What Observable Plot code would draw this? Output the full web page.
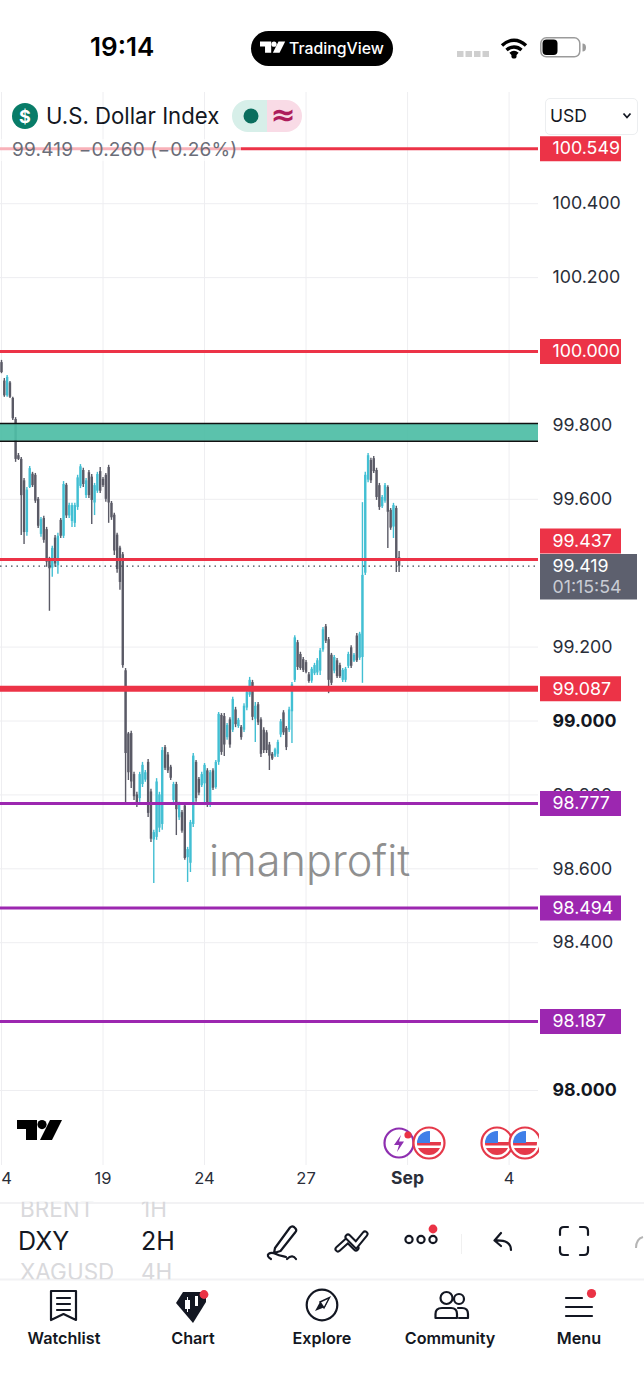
<!DOCTYPE html>
<html>
<head>
<meta charset="utf-8">
<script src="https://cdn.jsdelivr.net/npm/d3@7"></script>
<script src="https://cdn.jsdelivr.net/npm/@observablehq/plot@0.6"></script>
<style>
html,body{margin:0;padding:0;background:#fff;width:644px;height:1400px;overflow:hidden;font-family:Inter,"Noto Sans",sans-serif;color:#131722}
#page{position:relative;width:644px;height:1400px;overflow:hidden}
#chart{position:absolute;left:0;top:92px;width:644px}
.a{position:absolute;white-space:nowrap;line-height:1}
svg.i{position:absolute;overflow:visible}
</style>
</head>
<body>
<div id="page"><div id="chart"></div></div>
<script>
const high=[99.976,99.927,99.935,99.919,99.876,99.821,99.724,99.713,99.656,99.632,99.689,99.673,99.670,99.605,99.551,99.554,99.524,99.443,99.473,99.502,99.508,99.548,99.648,99.643,99.589,99.589,99.589,99.665,99.694,99.684,99.656,99.678,99.667,99.643,99.673,99.686,99.659,99.670,99.692,99.594,99.562,99.508,99.473,99.456,
99.142,98.969,98.972,98.861,98.807,98.861,98.888,98.866,98.896,98.815,98.704,98.844,98.807,98.928,98.934,98.915,98.880,98.834,98.834,98.780,98.758,98.777,98.658,98.731,98.912,98.893,98.847,98.861,98.885,98.871,98.866,98.871,98.893,99.023,99.020,99.020,98.993,99.009,99.064,99.037,99.007,98.988,99.047,99.083,99.118,99.110,99.050,99.050,99.009,98.982,98.974,98.942,98.915,98.926,98.948,99.004,99.028,98.985,99.037,99.104,99.231,
99.218,99.186,99.172,99.164,99.131,99.145,99.156,99.169,99.196,99.253,99.261,99.226,99.183,99.177,99.169,99.156,99.142,99.145,99.186,99.204,99.183,99.237,99.240,99.591,99.673,99.724,99.711,99.716,99.684,99.643,99.610,99.643,99.637,99.575,99.589,99.581,99.459];
const low=[99.940,99.876,99.876,99.873,99.813,99.700,99.705,99.502,99.478,99.500,99.629,99.632,99.589,99.521,99.497,99.481,99.416,99.297,99.389,99.416,99.397,99.494,99.494,99.548,99.548,99.524,99.524,99.570,99.629,99.632,99.602,99.602,99.532,99.556,99.616,99.616,99.632,99.592,99.535,99.543,99.448,99.400,99.354,99.143,
98.777,98.839,98.817,98.785,98.766,98.780,98.820,98.834,98.739,98.671,98.560,98.677,98.698,98.704,98.866,98.858,98.839,98.777,98.690,98.731,98.696,98.623,98.563,98.590,98.712,98.780,98.798,98.820,98.777,98.766,98.766,98.812,98.815,98.880,98.907,98.904,98.948,98.926,98.969,98.982,98.980,98.948,98.969,99.028,99.064,99.001,98.942,98.988,98.901,98.912,98.912,98.866,98.893,98.901,98.901,98.955,98.961,98.920,98.969,98.939,99.104,
99.137,99.137,99.131,99.128,99.102,99.102,99.123,99.123,99.123,99.186,99.210,99.074,99.096,99.128,99.115,99.115,99.104,99.104,99.142,99.142,99.158,99.158,99.164,99.102,99.394,99.645,99.643,99.670,99.597,99.570,99.575,99.589,99.467,99.516,99.494,99.402,99.402];
const open=[99.970,99.920,99.880,99.915,99.873,99.816,99.718,99.708,99.650,99.510,99.632,99.668,99.665,99.600,99.505,99.548,99.518,99.438,99.414,99.495,99.420,99.543,99.500,99.638,99.555,99.540,99.535,99.578,99.635,99.678,99.610,99.672,99.660,99.590,99.622,99.675,99.654,99.665,99.686,99.589,99.557,99.503,99.468,99.450,
99.136,98.965,98.966,98.855,98.800,98.790,98.828,98.840,98.888,98.808,98.678,98.685,98.710,98.720,98.928,98.908,98.875,98.785,98.828,98.738,98.752,98.770,98.630,98.615,98.720,98.888,98.842,98.825,98.830,98.865,98.775,98.865,98.820,98.888,99.015,99.012,98.955,99.003,98.975,99.030,98.985,98.983,98.975,99.035,99.070,99.104,99.005,99.044,99.003,98.975,98.968,98.935,98.910,98.905,98.910,98.962,99.022,98.980,98.975,99.025,99.110,
99.212,99.180,99.166,99.158,99.125,99.108,99.128,99.130,99.135,99.192,99.255,99.220,99.178,99.135,99.163,99.150,99.110,99.110,99.148,99.198,99.162,99.230,99.170,99.172,99.400,99.652,99.705,99.710,99.678,99.637,99.580,99.595,99.632,99.570,99.525,99.575,99.442];
const close=[99.943,99.880,99.930,99.876,99.818,99.708,99.708,99.610,99.510,99.625,99.683,99.637,99.595,99.527,99.545,99.489,99.430,99.412,99.467,99.425,99.500,99.500,99.640,99.555,99.583,99.583,99.583,99.658,99.688,99.640,99.650,99.610,99.597,99.637,99.667,99.622,99.637,99.600,99.590,99.550,99.460,99.410,99.375,99.150,
98.912,98.860,98.835,98.795,98.772,98.855,98.880,98.860,98.750,98.680,98.698,98.835,98.800,98.920,98.872,98.865,98.845,98.828,98.760,98.774,98.702,98.628,98.652,98.725,98.905,98.790,98.805,98.855,98.880,98.775,98.860,98.818,98.888,99.018,98.915,98.935,98.988,98.935,99.058,98.990,99.002,98.955,99.040,99.077,99.110,99.010,99.040,98.995,98.910,98.920,98.920,98.905,98.897,98.922,98.942,98.998,98.968,98.928,99.030,99.098,99.225,
99.145,99.142,99.137,99.132,99.107,99.140,99.150,99.163,99.190,99.247,99.216,99.110,99.102,99.172,99.120,99.120,99.137,99.140,99.180,99.148,99.178,99.163,99.235,99.394,99.665,99.718,99.650,99.675,99.605,99.578,99.605,99.637,99.565,99.522,99.583,99.440,99.419];

const redLevels=[100.549,100.000];
const currentLevel=99.437;
const thickLevel=99.087;
const purpleLevels=[98.777,98.494,98.187];
const zone=[{y1:99.757,y2:99.805}];
const lastPrice=99.419;
const lastTimer="01:15:54";
const yTicks=[100.4,100.2,99.8,99.6,99.2,99.0,98.8,98.6,98.4,98.0];
const boldTicks=[99.0,98.0];
const gridX=[0,36,72,108,144,180];
const xLabels=["4","19","24","27","Sep","4"];

const UP="#42bfd3",DOWN="#5a5a66",RED="#ec3347",PURPLE="#9c27b0",GRID="#eeeef1";
const bars=high.map((h,i)=>({i,high:h,low:low[i],open:open[i],close:close[i]}));
const fontStyle={fontFamily:"Inter,'Noto Sans',sans-serif",background:"transparent",overflow:"visible"};
const tagLeft={frameAnchor:"right",textAnchor:"start",dx:14,fontSize:17.8};
const tagRule={insetLeft:540,insetRight:-83,strokeWidth:25};
const xRows=gridX.map((g,k)=>({g,k}));

const plot=Plot.plot({
  width:644,height:1108,marginLeft:0,marginRight:106,marginTop:0,marginBottom:35,
  x:{type:"linear",domain:[-0.355,190.43],axis:null},
  y:{type:"linear",domain:[97.797,100.701],axis:null},
  style:fontStyle,
  marks:[
    Plot.ruleX(gridX,{stroke:GRID,strokeWidth:1}),
    Plot.ruleY(yTicks,{stroke:GRID,strokeWidth:1}),
    Plot.ruleX(bars,{x:"i",y1:"low",y2:"high",stroke:d=>d.close>=d.open?UP:DOWN,strokeWidth:1.4}),
    Plot.ruleX(bars,{x:"i",y1:"open",y2:"close",stroke:d=>d.close>=d.open?UP:DOWN,strokeWidth:2.4}),
    Plot.rectY(zone,{x1:-0.355,x2:190.43,y1:"y1",y2:"y2",fill:"#4fbda6",fillOpacity:0.93}),
    Plot.ruleY(zone,{y:"y1",stroke:"#111",strokeWidth:1.5}),
    Plot.ruleY(zone,{y:"y2",stroke:"#111",strokeWidth:1.5}),
    Plot.ruleY(redLevels,{stroke:RED,strokeWidth:3}),
    Plot.ruleY([currentLevel],{stroke:RED,strokeWidth:3}),
    Plot.ruleY([thickLevel],{stroke:RED,strokeWidth:6}),
    Plot.ruleY(purpleLevels,{stroke:PURPLE,strokeWidth:3}),
    Plot.ruleY([lastPrice],{stroke:"#3d4a55",strokeWidth:1.2,strokeDasharray:"1.5 4"}),
    Plot.text(yTicks.filter(v=>!boldTicks.includes(v)),{y:d=>d,text:d=>d3.format(".3f")(d),...tagLeft,fill:"#2a2e39"}),
    Plot.text(boldTicks,{y:d=>d,text:d=>d3.format(".3f")(d),...tagLeft,fill:"#131722",fontWeight:700}),
    Plot.ruleY(redLevels,{...tagRule,stroke:RED}),
    Plot.ruleY([thickLevel],{...tagRule,stroke:RED}),
    Plot.ruleY(purpleLevels,{...tagRule,stroke:PURPLE}),
    Plot.ruleY([currentLevel],{...tagRule,stroke:RED,dy:-18.5}),
    Plot.ruleY([lastPrice],{insetLeft:540,insetRight:-99,strokeWidth:45.5,stroke:"#5d606e",dy:10.5}),
    Plot.text([...redLevels,thickLevel,...purpleLevels],{y:d=>d,text:d=>d3.format(".3f")(d),...tagLeft,fill:"#fff"}),
    Plot.text([currentLevel],{y:d=>d,text:d=>d3.format(".3f")(d),...tagLeft,fill:"#fff",dy:-18.5}),
    Plot.text([lastPrice],{y:d=>d,text:d=>d3.format(".3f")(d),...tagLeft,fill:"#fff"}),
    Plot.text([lastTimer],{y:()=>lastPrice,text:d=>d,...tagLeft,fill:"#c9ccd4",dy:21}),
    Plot.text(xRows.filter(d=>d.k!==4&&d.k!==0),{x:"g",text:d=>xLabels[d.k],frameAnchor:"bottom",dy:18,fontSize:16.5,fill:"#2a2e39"}),
    Plot.text(xRows.filter(d=>d.k===0),{x:"g",text:d=>xLabels[d.k],frameAnchor:"bottom",dy:18,dx:5,fontSize:16.5,fill:"#2a2e39"}),
    Plot.text(xRows.filter(d=>d.k===4),{x:"g",text:d=>xLabels[d.k],frameAnchor:"bottom",dy:18,fontSize:17.5,fontWeight:700,fill:"#2a2e39"})
  ]
});
document.getElementById("chart").appendChild(plot);

const page=document.getElementById("page");
function txt(t,x,y,size,opts={}){
  const d=document.createElement("div");d.className="a";d.textContent=t;
  d.style.left=x+"px";d.style.top=(y-size/2)+"px";d.style.fontSize=size+"px";
  d.style.height=size+"px";
  for(const k in opts)d.style[k]=opts[k];
  page.appendChild(d);return d;
}
function ctxt(t,cx,y,size,opts={}){return txt(t,cx-100,y,size,{width:"200px",textAlign:"center",...opts});}
function svg(x,y,w,h,inner){
  const wrap=document.createElement("div");
  wrap.innerHTML=`<svg class="i" xmlns="http://www.w3.org/2000/svg" width="${w}" height="${h}" style="left:${x}px;top:${y}px">${inner}</svg>`;
  page.appendChild(wrap.firstChild);
}
const tvLogo=(f)=>`<path fill="${f}" d="M0 1H20V21H9V10H0Z"/><circle cx="25" cy="5.6" r="4.6" fill="${f}"/><path fill="${f}" d="M33 1H45L35 21H23Z"/>`;

// status bar
txt("19:14",90,47,26,{fontWeight:600,color:"#000"});
svg(251,31,142,35,`<rect width="142" height="35" rx="17.5" fill="#000"/><g transform="translate(9,10) scale(.56)">${tvLogo("#fff")}</g>`);
txt("TradingView",289,48.5,15.8,{color:"#fff",fontWeight:500});
svg(457,51,33,6,[0,8.5,17,25.5].map(x=>`<rect x="${x}" width="6.5" height="6" fill="#cfcfcf"/>`).join(""));
svg(500,37,28,22,`<path d="M2 8.5C9.5 1.5 18.5 1.5 26 8.5M6.5 13C11 9 17 9 21.5 13M10.5 17C12.7 15 15.3 15 17.5 17" fill="none" stroke="#000" stroke-width="3.4"/><circle cx="14" cy="19" r="2.6" fill="#000"/>`);
svg(540,37,46,22,`<rect x=".8" y=".8" width="39" height="19" rx="5.5" fill="#fff" stroke="#9b9b9b" stroke-width="1.5"/><rect x="2.5" y="2.5" width="15" height="15.5" rx="4" fill="#000"/><path d="M42.5 6.5a3.5 4 0 0 1 0 8z" fill="#9b9b9b"/>`);

// legend
svg(12,103,26,26,`<circle cx="13" cy="13" r="13" fill="#087c68"/><text x="13" y="19.5" text-anchor="middle" font-size="18" font-weight="700" fill="#fff" font-family="Inter,sans-serif">$</text>`);
txt("U.S. Dollar Index",46,116,22.2,{color:"#131722"});
svg(232,100,70,32,`<path d="M16 0H35V32H16A16 16 0 0 1 16 0Z" fill="#d7efe9"/><path d="M35 0H54A16 16 0 0 1 54 32H35Z" fill="#f9dbe6"/><circle cx="19" cy="16" r="7.5" fill="#0a6e5e"/><text x="51" y="25" text-anchor="middle" font-size="30" font-weight="700" fill="#ad1d5c" font-family="DejaVu Sans,sans-serif">≈</text>`);
txt("99.419 −0.260 (−0.26%)",12,149.5,19,{color:"#6a6d78",background:"rgba(255,255,255,.62)",left:"0",paddingLeft:"12px",paddingRight:"4px",height:"22px",lineHeight:"22px",top:"139px",letterSpacing:".2px"});
const sel=document.createElement("div");sel.className="a";
sel.style.cssText="left:545px;top:98px;width:91px;height:35px;border:1px solid #eceef0;border-radius:5px;background:#fff";
page.appendChild(sel);
txt("USD",550,116,17.5,{color:"#131722"});
svg(622,112,10,8,`<path d="M1.5 1.5L5 5.5L8.5 1.5" fill="none" stroke="#131722" stroke-width="1.8"/>`);

// watermark
txt("imanprofit",209,861,43.2,{color:"#8f8f8f",fontWeight:300});

// logo + event badges
svg(17,1119,46,23,tvLogo("#000"));
const flag=(cx)=>`<g transform="translate(${cx},16)"><circle r="15.5" fill="#fff" stroke="#e5394a" stroke-width="2.2"/><clipPath id="c${cx}"><circle r="12"/></clipPath><g clip-path="url(#c${cx})"><rect x="-12" y="-12" width="24" height="24" fill="#fff"/><rect x="-12" y="-1" width="24" height="3.5" fill="#e5394a"/><rect x="-12" y="5" width="24" height="8" fill="#e5394a"/><rect x="-12" y="-12" width="13" height="12" fill="#3f7fe8"/></g></g>`;
svg(383,1127,70,32,`<circle cx="16" cy="16" r="14.5" fill="#fff" stroke="#8e2fb0" stroke-width="2.2"/><path d="M18 8L11 18H16L14 25L21 14.5H16Z" fill="#8e2fb0"/><circle cx="25" cy="8" r="3.6" fill="#ea3345"/>${flag(46)}`);
svg(481,1127,58,32,`<clipPath id="cl"><rect x="-2" y="-2" width="60" height="36"/></clipPath><g clip-path="url(#cl)">${flag(16)}${flag(44)}</g>`);

// separators
svg(0,1202,644,78,`<rect width="644" height="2" fill="#f2f2f4"/><rect y="76.5" width="644" height="2" fill="#f2f2f4"/><rect x="461" y="32" width="1" height="20" fill="#f0f0f0"/>`);

// picker
const clip=(t,x,y,size,color,w)=>{const d=txt(t,x,y,size,{color,fontWeight:400});if(w){d.style.width=w+"px";d.style.overflow="hidden";}return d;};
const pick1=clip("BRENT",20,1209,22.5,"#d9d9dc");pick1.style.clipPath="inset(4px 0 0 0)";
const pick2=clip("1H",141,1209,22.5,"#d9d9dc");pick2.style.clipPath="inset(4px 0 0 0)";
clip("DXY",18,1241,25,"#131722");
clip("2H",141,1241,25,"#131722");
const pick3=clip("XAGUSD",20,1272,22.5,"#d9d9dc",93);pick3.style.clipPath="inset(0 0 4px 0)";
const pick4=clip("4H",141,1272,22.5,"#d9d9dc");pick4.style.clipPath="inset(0 0 4px 0)";

// toolbar
const st=`fill="none" stroke="#131722" stroke-width="2.2" stroke-linecap="round" stroke-linejoin="round"`;
svg(266,1224,34,36,`<path d="M9 24L24 3.5Q26 1.5 28 3L29.5 4.5Q31 6.5 29.5 8L14.5 27L8 29Z M5 35C-2 31 4 27 10 30C14 32 17 32 20 33" ${st}/><path d="M21 35C25 31 28 32 30 35" ${st}/>`);
const chev=(p)=>`<polyline points="${p}" fill="none" stroke="#131722" stroke-width="7" stroke-linejoin="miter" stroke-linecap="round"/><polyline points="${p}" fill="none" stroke="#fff" stroke-width="3" stroke-linejoin="miter" stroke-linecap="round"/>`;
svg(334,1226,36,30,chev("4,23 14,14 22,22")+chev("14,11 22,19 31,8"));
svg(405,1224,34,26,`<circle cx="4" cy="15.5" r="3.6" ${st}/><circle cx="16" cy="15.5" r="3.6" ${st}/><circle cx="28" cy="15.5" r="3.6" ${st}/><circle cx="28" cy="5" r="4.4" fill="#ea3345"/>`);
svg(492,1231,22,22,`<path d="M19 19C19 12 14 9 3 9.5M9 2L2.5 9.5L9 15" ${st}/>`);
svg(558,1225,32,32,`<path d="M2 10V6Q2 2 6 2H10M22 2H26Q30 2 30 6V10M30 22V26Q30 30 26 30H22M10 30H6Q2 30 2 26V22" ${st}/>`);
svg(634,1235,10,14,`<path d="M2 13Q2 4 9 2" fill="none" stroke="#b5b5b5" stroke-width="2"/>`);

// tab bar
const tabs=[["Watchlist",64],["Chart",193],["Explore",322],["Community",450],["Menu",579]];
tabs.forEach(([t,c])=>ctxt(t,c,1338,16.2,{fontWeight:600,color:"#131722"}));
svg(49,1289,30,34,`<path d="M2 2H27V31L14.5 25L2 31Z M8 9H21M8 15H21M8 21H21" ${st}/>`);
svg(175,1289,38,36,`<path d="M8 3H31V13L18 34L1 14Z" fill="#131722"/><rect x="10" y="11" width="5" height="9" fill="#fff"/><rect x="12" y="8" width="1" height="15" fill="#fff"/><rect x="20" y="7" width="3" height="10" fill="#fff"/><circle cx="29" cy="5.5" r="4.4" fill="#ea3345"/>`);
svg(305,1289,34,34,`<circle cx="17" cy="16" r="15.3" ${st}/><path d="M10 22L15 13L24.5 8.5L20 18Z" fill="#131722"/><path d="M15 13L24.5 8.5L19 19Z" fill="#fff" stroke="#131722" stroke-width="1.4"/>`);
svg(434,1290,36,32,`<circle cx="12.5" cy="8" r="6" ${st}/><circle cx="25" cy="9" r="5" ${st}/><path d="M1.5 28V24Q1.5 18 8 18H17Q23 18 23 24V28Z" ${st}/><path d="M24 18H28Q34 18 34 24V28H25" ${st}/>`);
svg(564,1289,32,30,`<path d="M2 9H18M2 18H28M2 27H28" ${st}/><circle cx="27.5" cy="4.5" r="4.6" fill="#ea3345"/>`);
</script>
</body>
</html>
